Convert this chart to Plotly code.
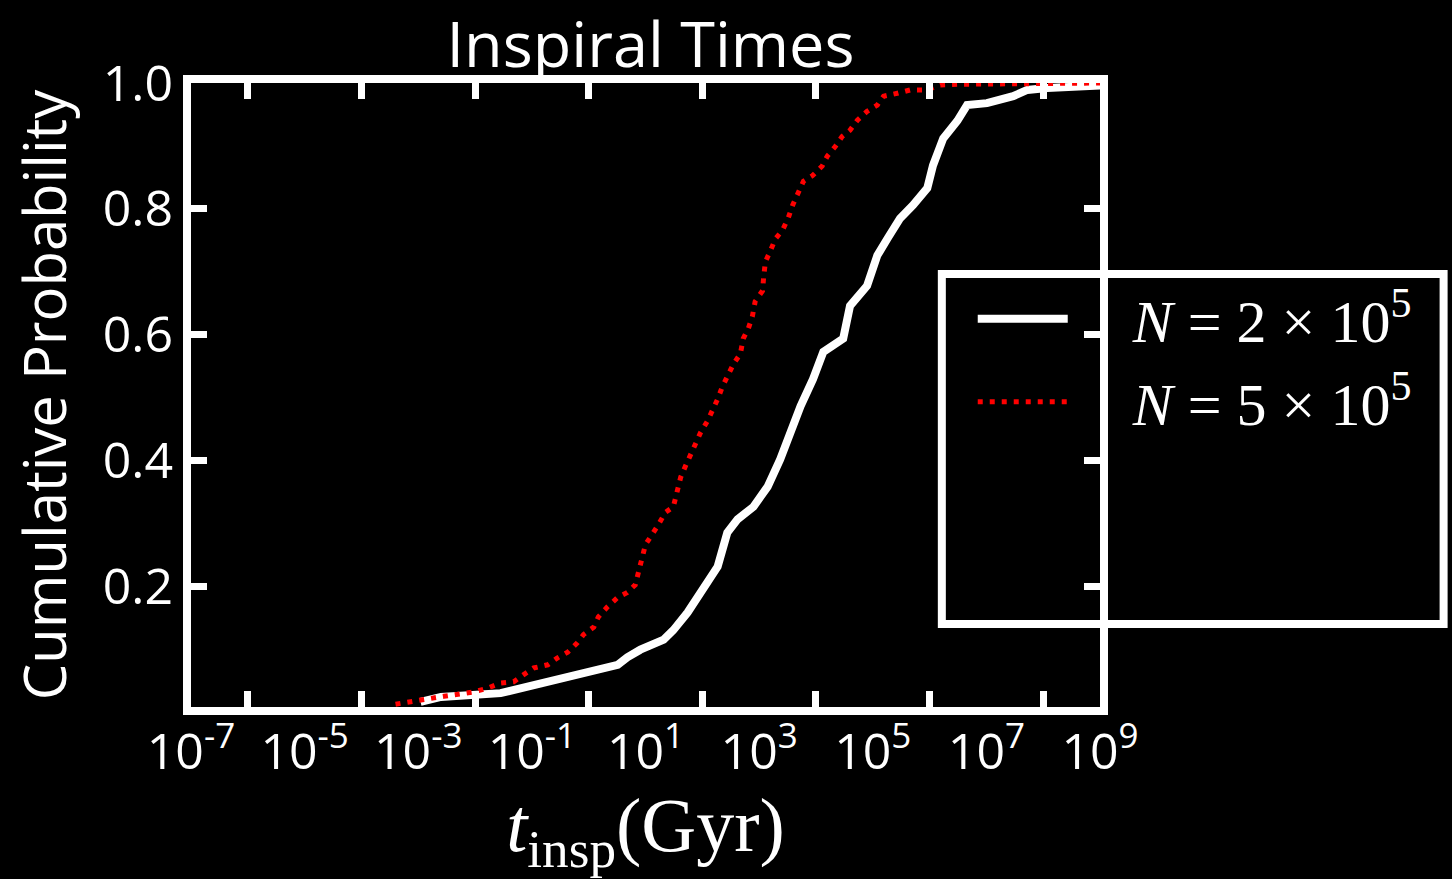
import numpy as np
import plotly.graph_objects as go

# ---- data (log10 of t_insp in Gyr, cumulative probability) ----
white_log10_t = [-2.96, -2.60, -1.55, -0.85, -0.44, 0.03, 0.51, 0.68, 0.91, 1.32, 1.49, 1.74,
                 1.97, 2.27, 2.44, 2.62, 2.90, 3.15, 3.37, 3.55, 3.73, 3.95, 4.13, 4.48, 4.60,
                 4.90, 5.08, 5.26, 5.48, 5.71, 5.96, 6.06, 6.24, 6.49, 6.66, 7.01, 7.47, 7.72,
                 8.07, 9.00]
white_cdf = [0.017, 0.025, 0.031, 0.047, 0.055, 0.065, 0.076, 0.088, 0.100, 0.116, 0.131, 0.159,
             0.190, 0.232, 0.286, 0.307, 0.327, 0.359, 0.402, 0.445, 0.487, 0.530, 0.573, 0.594,
             0.646, 0.678, 0.726, 0.753, 0.785, 0.806, 0.833, 0.869, 0.912, 0.940, 0.965, 0.968,
             0.979, 0.989, 0.992, 0.996]

red_log10_t = [-3.40, -3.01, -2.55, -2.02, -1.78, -1.55, -1.32, -1.15, -0.97, -0.72, -0.55, -0.37,
               -0.20, -0.09, 0.09, 0.17, 0.33, 0.51, 0.68, 0.82, 0.88, 0.95, 1.00, 1.21, 1.35,
               1.49, 1.56, 1.62, 1.70, 1.79, 1.88, 1.97, 2.09, 2.18, 2.27, 2.35, 2.44, 2.55,
               2.67, 2.72, 2.81, 2.88, 2.93, 3.06, 3.08, 3.11, 3.20, 3.29, 3.41, 3.51, 3.59,
               3.67, 3.78, 3.94, 4.11, 4.20, 4.34, 4.46, 4.60, 4.73, 4.90, 5.08, 5.19, 5.45,
               5.66, 5.96, 6.19, 6.49, 9.00]
red_cdf = [0.0135, 0.020, 0.026, 0.033, 0.039, 0.047, 0.049, 0.060, 0.071, 0.076, 0.087, 0.096,
           0.111, 0.124, 0.136, 0.152, 0.168, 0.183, 0.191, 0.203, 0.227, 0.246, 0.267, 0.296,
           0.318, 0.327, 0.350, 0.374, 0.391, 0.410, 0.429, 0.445, 0.463, 0.479, 0.498, 0.517,
           0.535, 0.554, 0.570, 0.594, 0.610, 0.629, 0.653, 0.670, 0.692, 0.716, 0.734, 0.753,
           0.766, 0.785, 0.806, 0.822, 0.844, 0.853, 0.868, 0.884, 0.899, 0.915, 0.925, 0.941,
           0.955, 0.965, 0.979, 0.984, 0.989, 0.989, 0.997, 0.998, 1.000]

PAD = "\u00a0\u00a0\u00a0\u00a0"
series_names = [PAD + "<i>N</i> = 2 × 10<sup>5</sup>", PAD + "<i>N</i> = 5 × 10<sup>5</sup>"]

label_exps = [-7, -5, -3, -1, 1, 3, 5, 7, 9]
tick_exps = [-6, -4, -2, 0, 2, 4, 6, 8]
y_ticks = [0.2, 0.4, 0.6, 0.8, 1.0]
y_ticktext = ["0.2", "0.4", "0.6", "0.8", "1.0"]

sans = "Open Sans"
serif = "Liberation Serif"

fig = go.Figure()
fig.add_trace(go.Scatter(
    x=np.power(10.0, white_log10_t), y=white_cdf, mode="lines", name=series_names[0],
    line=dict(color="white", width=8, shape="linear"), legendgroup="a"))
fig.add_trace(go.Scatter(
    x=np.power(10.0, red_log10_t), y=red_cdf, mode="lines", name=series_names[1],
    line=dict(color="#ff0000", width=5, dash="5px,7px", shape="linear"), legendgroup="b"))

fig.update_layout(
    width=1452, height=879,
    paper_bgcolor="black", plot_bgcolor="black",
    margin=dict(l=191, r=352, t=83, b=172),
    title=dict(text="Inspiral Times", x=0.448, xanchor="center", y=0.949, yanchor="middle",
               yref="container", font=dict(family=sans, size=63, color="white")),
    showlegend=True,
    legend=dict(x=0.86, xanchor="left", y=0.695, yanchor="top",
                bgcolor="rgba(0,0,0,0)", borderwidth=0, itemwidth=90,
                tracegroupgap=2,
                font=dict(family=serif, size=60, color="white")),
)

fig.update_xaxes(
    type="log", range=[-7, 9],
    tickmode="array", tickvals=[10.0 ** e for e in label_exps],
    ticktext=["10<sup>%d</sup>" % e for e in label_exps],
    ticks="", showgrid=False, zeroline=False, ticklabelstandoff=-6,
    showline=True, linewidth=8, linecolor="white", mirror="ticks",
    tickfont=dict(family=sans, size=50, color="white"),
    minor=dict(tickmode="array", tickvals=[10.0 ** e for e in tick_exps],
               ticks="inside", ticklen=16, tickwidth=7, tickcolor="white", showgrid=False),
    title=dict(text="<i>t</i><sub>insp</sub>(Gyr)", standoff=16,
               font=dict(family=serif, size=76, color="white")),
)
fig.update_yaxes(
    range=[0.009, 1.0],
    tickmode="array", tickvals=y_ticks, ticktext=y_ticktext,
    ticks="inside", ticklen=16, tickwidth=7, tickcolor="white",
    showgrid=False, zeroline=False,
    showline=True, linewidth=8, linecolor="white", mirror="ticks",
    tickfont=dict(family=sans, size=50, color="white"),
    title=dict(text="Cumulative Probability", standoff=20,
               font=dict(family=sans, size=58, color="white")),
)

# legend frame
fig.add_shape(type="rect", xref="paper", yref="paper",
              x0=0.826, x1=1.378, y0=0.133, y1=0.694,
              line=dict(color="white", width=8), fillcolor="rgba(0,0,0,0)", layer="above")

fig.write_html(
    "out.html",
    config={"displayModeBar": False},
    post_script="document.body.style.margin='0px';document.body.style.backgroundColor='black';",
)
